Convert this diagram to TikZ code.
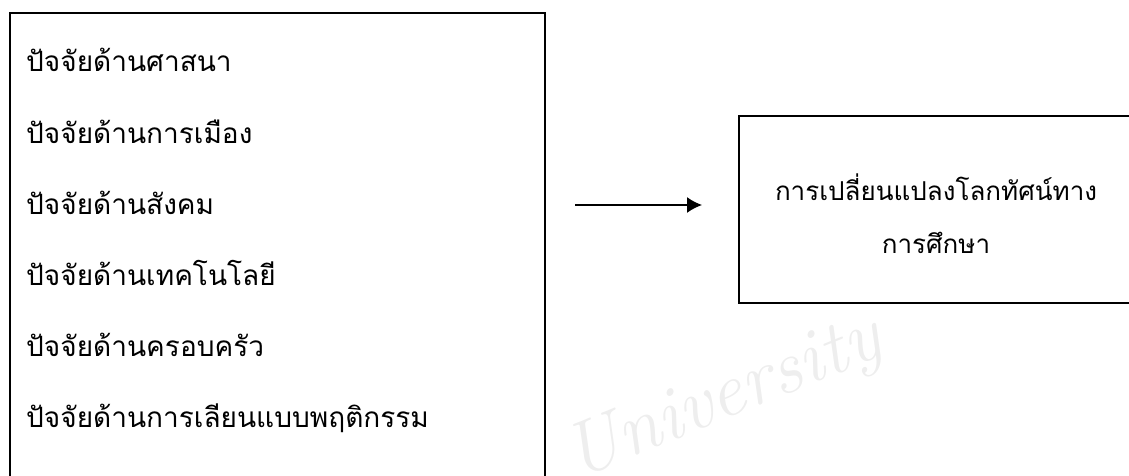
\documentclass[tikz,border=0pt]{standalone}
\usepackage{fontspec}
\usetikzlibrary{arrows.meta}
\newfontfamily\thaifont[Script=Thai]{Loma}
\tikzset{
    factor/.style={anchor=base west, inner sep=0pt, font=\thaifont\fontsize{28}{28}\selectfont},
    framebox/.style={draw, line width=1.6pt, anchor=north west, inner sep=0pt},
}

\begin{document}
\begin{tikzpicture}[x=1pt,y=-1pt]
			\useasboundingbox (0,0) rectangle (1129,476);
			\clip (0,0) rectangle (1129,476);
			\node[rotate=22, text=gray!13, font=\fontsize{76}{76}\selectfont\itshape] (mark) at (724,400) {University};
			\node[framebox, minimum width=535pt, minimum height=520pt] (factors) at (9,12) {};
			\foreach \t [count=\i] in {ปัจจัยด้านศาสนา, ปัจจัยด้านการเมือง, ปัจจัยด้านสังคม, ปัจจัยด้านเทคโนโลยี, ปัจจัยด้านครอบครัว, ปัจจัยด้านการเลียนแบบพฤติกรรม}{
				\node[factor] (f\i) at (26,{72+71*(\i-1)}) {\t};
			}
			\node[framebox, minimum width=396pt, minimum height=187pt] (change) at (738,115) {};
			\node[align=center, font=\thaifont\fontsize{26}{53}\selectfont] (changetext) at (936,214) {การเปลี่ยนแปลงโลกทัศน์ทาง\\การศึกษา};
			\coordinate (from) at (575,205);
			\coordinate (to) at (702,205);
			\draw[line width=1.6pt, -{Latex[length=15pt,width=16pt]}] (from) -- (to);
		\end{tikzpicture}
\end{document}
